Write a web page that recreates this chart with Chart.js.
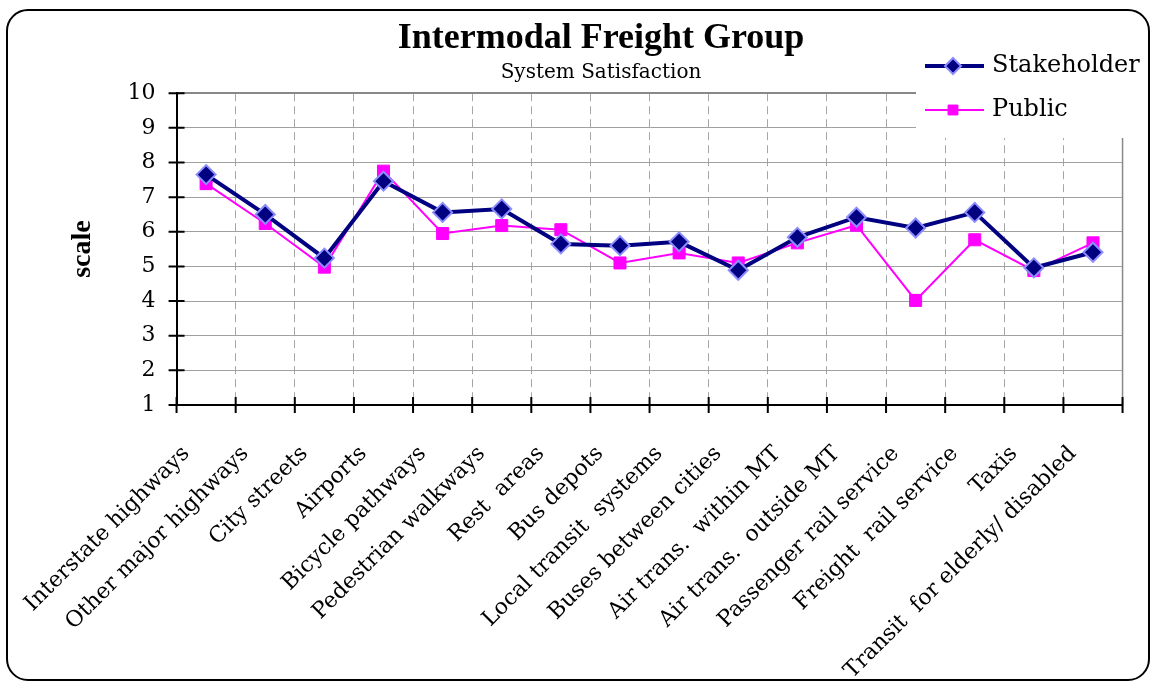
<!DOCTYPE html>
<html>
<head>
<meta charset="utf-8">
<script src="https://cdn.jsdelivr.net/npm/chart.js@4/dist/chart.umd.min.js"></script>
<style>
  body { margin: 0; background: #fff; }
  #frame {
    position: absolute; left: 6px; top: 9px;
    width: 1140px; height: 668px;
    border: 2px solid #000; border-radius: 22px;
    overflow: hidden; background: #fff;
  }
  canvas { display: block; }
</style>
</head>
<body>
<div id="frame"><canvas id="chart" width="1140" height="668"></canvas></div>
<script>
// ── data ──
const categories = [
  'Interstate highways', 'Other major highways', 'City streets', 'Airports',
  'Bicycle pathways', 'Pedestrian walkways', 'Rest  areas', 'Bus depots',
  'Local transit  systems', 'Buses between cities', 'Air trans.  within MT',
  'Air trans.  outside MT', 'Passenger rail service', 'Freight  rail service',
  'Taxis', 'Transit  for elderly/ disabled'
];
const stakeholder = [7.65, 6.50, 5.24, 7.46, 6.56, 6.66, 5.65, 5.60, 5.71, 4.89, 5.84, 6.42, 6.11, 6.56, 4.96, 5.41];
const publicVals  = [7.39, 6.24, 4.98, 7.75, 5.95, 6.18, 6.06, 5.10, 5.39, 5.10, 5.68, 6.19, 4.02, 5.77, 4.88, 5.68];
const yTicks = [1, 2, 3, 4, 5, 6, 7, 8, 9, 10];

const SERIF = '"DejaVu Serif", serif';
const TIMES = '"Liberation Serif", "Times New Roman", serif';

// ── crossing tick marks + solid right border of the plot ──
const axisTicks = {
  id: 'axisTicks',
  beforeDatasetsDraw(chart) {
    const { ctx, chartArea: a } = chart;
    ctx.save();
    ctx.strokeStyle = '#888';
    ctx.lineWidth = 1.5;
    ctx.beginPath();
    ctx.moveTo(a.right, a.top);
    ctx.lineTo(a.right, a.bottom);
    ctx.stroke();
    ctx.restore();
  },
  afterDraw(chart) {
    const { ctx, chartArea: a, scales } = chart;
    const xs = scales.x, ys = scales.y;
    ctx.save();
    ctx.strokeStyle = '#000';
    ctx.lineWidth = 2;
    ctx.beginPath();
    yTicks.forEach(v => {
      const y = ys.getPixelForValue(v);
      ctx.moveTo(a.left - 8, y);
      ctx.lineTo(a.left + 8, y);
    });
    const half = (xs.getPixelForValue(1) - xs.getPixelForValue(0)) / 2;
    for (let i = 0; i <= categories.length; i++) {
      const x = xs.getPixelForValue(i) - half;
      ctx.moveTo(x, a.bottom - 8);
      ctx.lineTo(x, a.bottom + 8);
    }
    ctx.stroke();
    ctx.restore();
  }
};

// ── legend box sitting over the top-right of the plot ──
const boxLegend = {
  id: 'boxLegend',
  afterDraw(chart) {
    const { ctx } = chart;
    ctx.save();
    ctx.fillStyle = '#fff';
    ctx.fillRect(908, 30, 232, 97);
    const rows = [55, 99];
    chart.data.datasets.forEach((ds, i) => {
      const y = rows[i];
      ctx.strokeStyle = ds.borderColor;
      ctx.lineWidth = ds.borderWidth;
      ctx.beginPath();
      ctx.moveTo(917, y);
      ctx.lineTo(976, y);
      ctx.stroke();
      ctx.fillStyle = ds.pointBackgroundColor;
      ctx.strokeStyle = ds.pointBorderColor;
      ctx.lineWidth = ds.pointBorderWidth;
      Chart.helpers.drawPoint(ctx, {
        pointStyle: ds.pointStyle, radius: ds.pointRadius - 1.5, rotation: 0,
        borderWidth: ds.pointBorderWidth
      }, 945, y);
      ctx.fillStyle = '#000';
      ctx.font = '24px ' + SERIF;
      ctx.textBaseline = 'middle';
      ctx.textAlign = 'left';
      ctx.fillText(ds.label, 984, y);
    });
    ctx.restore();
  }
};

new Chart(document.getElementById('chart'), {
  type: 'line',
  data: {
    labels: categories,
    datasets: [
      {
        label: 'Stakeholder',
        data: stakeholder,
        borderColor: '#000080',
        borderWidth: 4,
        pointStyle: 'rectRot',
        pointRadius: 9.5,
        pointBackgroundColor: '#000080',
        pointBorderColor: '#8c8cff',
        pointBorderWidth: 2,
        tension: 0
      },
      {
        label: 'Public',
        data: publicVals,
        borderColor: '#ff00ff',
        borderWidth: 2,
        pointStyle: 'rect',
        pointRadius: 8.5,
        pointBackgroundColor: '#ff00ff',
        pointBorderColor: '#ff00ff',
        pointBorderWidth: 1,
        tension: 0
      }
    ]
  },
  options: {
    responsive: false,
    animation: false,
    devicePixelRatio: 1,
    layout: { padding: { left: 55, right: 9, top: 0, bottom: 0 } },
    plugins: {
      legend: { display: false },
      tooltip: { enabled: false },
      title: {
        display: true,
        text: 'Intermodal Freight Group',
        color: '#000',
        font: { family: TIMES, size: 36, weight: 'bold' },
        padding: { top: 6, bottom: 0 }
      },
      subtitle: {
        display: true,
        text: 'System Satisfaction',
        color: '#000',
        font: { family: SERIF, size: 20 },
        padding: { top: 1, bottom: 8 }
      }
    },
    scales: {
      x: {
        offset: true,
        grid: { offset: true, color: '#a6a6a6', lineWidth: 1, drawTicks: false },
        border: { display: true, color: '#000', width: 2, dash: [8, 5] },
        ticks: {
          autoSkip: false, minRotation: 45, maxRotation: 45,
          padding: 36, labelOffset: -20, color: '#000',
          font: { family: SERIF, size: 22 }
        },
        afterFit(scale) { scale.height = 274; }
      },
      y: {
        min: 1, max: 10,
        grid: {
          color: c => (c.tick && c.tick.value === 10 ? '#888' : '#a0a0a0'),
          lineWidth: c => (c.tick && c.tick.value === 10 ? 2 : 1),
          drawTicks: false
        },
        border: { display: true, color: '#000', width: 2 },
        ticks: {
          stepSize: 1, padding: 21, color: '#000',
          font: { family: SERIF, size: 22 }
        },
        title: {
          display: true, text: 'scale', color: '#000',
          font: { family: TIMES, size: 28, weight: 'bold' },
          padding: { top: 2, bottom: 4 }
        },
        afterFit(scale) { scale.width = 113; }
      }
    }
  },
  plugins: [axisTicks, boxLegend]
});
</script>
</body>
</html>
